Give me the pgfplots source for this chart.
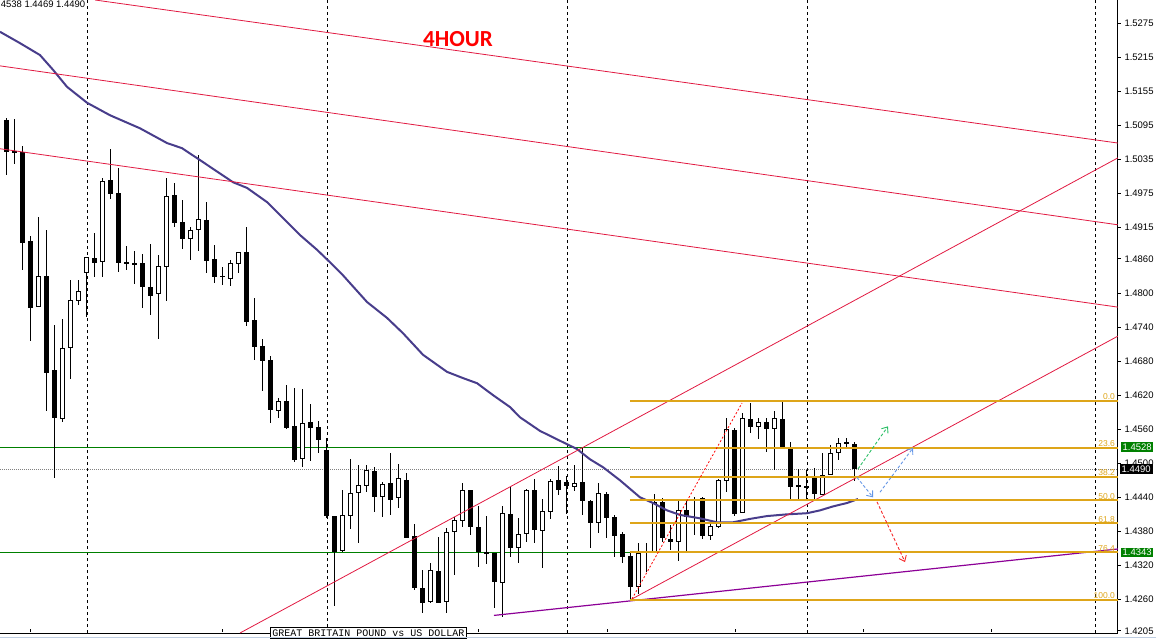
\documentclass[border=0pt]{standalone}
\usepackage{pgfplots}
\pgfplotsset{compat=1.18}
\usepackage{pgfplotstable}
\usepackage{fontspec}
\setmainfont{Liberation Sans}
\newfontfamily\monofont{Liberation Mono}
\newfontfamily\titlefont{Carlito}
\usetikzlibrary{arrows.meta}

\definecolor{maline}{RGB}{72,61,139}
\definecolor{trendred}{RGB}{225,25,65}
\definecolor{fibgold}{RGB}{222,165,25}
\definecolor{lvlgreen}{RGB}{0,128,0}
\definecolor{chanpurple}{RGB}{140,0,150}
\definecolor{arrgreen}{RGB}{40,190,100}
\definecolor{arrblue}{RGB}{100,150,230}
\definecolor{arrred}{RGB}{245,40,40}
\definecolor{winedge}{RGB}{190,205,225}

% GBPUSD H4 candles: index, open, high, low, close
\pgfplotstableread{
i o h l c
0 1.5105 1.5108 1.5008 1.5048
1 1.5050 1.5106 1.5027 1.5046
2 1.5048 1.5059 1.4840 1.4888
3 1.4891 1.4900 1.4715 1.4773
4 1.4775 1.4934 1.4775 1.4830
5 1.4830 1.4911 1.4592 1.4659
6 1.4664 1.4743 1.4474 1.4580
7 1.4578 1.4754 1.4572 1.4703
8 1.4703 1.4823 1.4648 1.4787
9 1.4786 1.4823 1.4779 1.4803
10 1.4835 1.4863 1.4757 1.4863
11 1.4861 1.4905 1.4828 1.4853
12 1.4854 1.5002 1.4828 1.4997
13 1.4999 1.5053 1.4965 1.4974
14 1.4976 1.5020 1.4837 1.4853
15 1.4854 1.4882 1.4840 1.4853
16 1.4853 1.4874 1.4816 1.4849
17 1.4853 1.4869 1.4773 1.4810
18 1.4810 1.4886 1.4761 1.4794
19 1.4798 1.4867 1.4719 1.4847
20 1.4846 1.5002 1.4786 1.4971
21 1.4972 1.4994 1.4916 1.4923
22 1.4925 1.4964 1.4877 1.4895
23 1.4895 1.4916 1.4858 1.4911
24 1.4911 1.5043 1.4874 1.4930
25 1.4928 1.4960 1.4835 1.4856
26 1.4860 1.4884 1.4817 1.4828
27 1.4830 1.4846 1.4814 1.4828
28 1.4824 1.4858 1.4812 1.4853
29 1.4851 1.4872 1.4835 1.4872
30 1.4872 1.4916 1.4742 1.4749
31 1.4752 1.4791 1.4682 1.4705
32 1.4706 1.4719 1.4627 1.4680
33 1.4682 1.4689 1.4571 1.4594
34 1.4592 1.4615 1.4580 1.4609
35 1.4609 1.4638 1.4560 1.4562
36 1.4565 1.4632 1.4502 1.4506
37 1.4507 1.4631 1.4493 1.4571
38 1.4572 1.4604 1.4504 1.4562
39 1.4564 1.4574 1.4518 1.4541
40 1.4523 1.4544 1.4403 1.4407
41 1.4407 1.4407 1.4248 1.4343
42 1.4345 1.4453 1.4343 1.4409
43 1.4407 1.4507 1.4384 1.4447
44 1.4447 1.4497 1.4359 1.4461
45 1.4460 1.4497 1.4449 1.4488
46 1.4486 1.4493 1.4414 1.4440
47 1.4440 1.4467 1.4405 1.4463
48 1.4465 1.4518 1.4409 1.4435
49 1.4439 1.4498 1.4421 1.4474
50 1.4470 1.4483 1.4368 1.4368
51 1.4372 1.4393 1.4276 1.4280
52 1.4280 1.4312 1.4236 1.4254
53 1.4255 1.4324 1.4254 1.4312
54 1.4310 1.4370 1.4254 1.4254
55 1.4255 1.4386 1.4236 1.4379
56 1.4379 1.4405 1.4303 1.4400
57 1.4398 1.4465 1.4387 1.4453
58 1.4453 1.4453 1.4373 1.4387
59 1.4387 1.4424 1.4317 1.4343
60 1.4343 1.4407 1.4322 1.4342
61 1.4342 1.4342 1.4245 1.4291
62 1.4289 1.4424 1.4229 1.4412
63 1.4410 1.4458 1.4335 1.4350
64 1.4350 1.4403 1.4324 1.4375
65 1.4375 1.4454 1.4361 1.4453
66 1.4453 1.4472 1.4359 1.4382
67 1.4380 1.4437 1.4315 1.4416
68 1.4414 1.4472 1.4401 1.4469
69 1.4470 1.4495 1.4444 1.4453
70 1.4467 1.4477 1.4410 1.4460
71 1.4458 1.4497 1.4451 1.4465
72 1.4467 1.4527 1.4409 1.4433
73 1.4433 1.4435 1.4350 1.4395
74 1.4395 1.4465 1.4377 1.4447
75 1.4446 1.4449 1.4368 1.4403
76 1.4405 1.4409 1.4335 1.4372
77 1.4375 1.4379 1.4324 1.4335
78 1.4336 1.4342 1.4260 1.4282
79 1.4282 1.4359 1.4269 1.4342
80 1.4343 1.4359 1.4308 1.4345
81 1.4343 1.4446 1.4343 1.4431
82 1.4431 1.4439 1.4361 1.4368
83 1.4366 1.4391 1.4347 1.4361
84 1.4361 1.4437 1.4328 1.4417
85 1.4417 1.4435 1.4343 1.4405
86 1.4435 1.4440 1.4373 1.4437
87 1.4439 1.4440 1.4366 1.4372
88 1.4372 1.4395 1.4365 1.4389
89 1.4387 1.4472 1.4386 1.4470
90 1.4469 1.4580 1.4449 1.4560
91 1.4558 1.4562 1.4407 1.4410
92 1.4412 1.4588 1.4412 1.4580
93 1.4578 1.4607 1.4553 1.4564
94 1.4564 1.4580 1.4543 1.4572
95 1.4572 1.4580 1.4520 1.4560
96 1.4560 1.4592 1.4488 1.4580
97 1.4578 1.4610 1.4528 1.4528
98 1.4525 1.4537 1.4435 1.4458
99 1.4460 1.4490 1.4435 1.4460
100 1.4460 1.4488 1.4435 1.4456
101 1.4474 1.4491 1.4435 1.4446
102 1.4444 1.4518 1.4444 1.4479
103 1.4479 1.4532 1.4479 1.4518
104 1.4518 1.4544 1.4506 1.4535
105 1.4537 1.4544 1.4528 1.4534
106 1.4534 1.4538 1.4469 1.4490
}\candles

\begin{document}
\begin{tikzpicture}[x=1pt,y=1pt]
\begin{axis}[
  at={(0pt,5pt)}, anchor=south west,
  width=1118pt, height=633pt, scale only axis,
  xmin=-0.79, xmax=138.96, ymin=1.4201, ymax=1.5316,
  axis x line*=bottom, axis y line*=right,
  axis line style={-, black, line width=1pt},
  xtick={2.96,26.96,58.96,75.08,91.08,107.08,123.08}, xticklabels={},
  tick style={black, line width=0.8pt},
  tick align=outside, major tick length=3pt,
  x tick style={yshift=4pt},
  ytick={1.5275,1.5215,1.5155,1.5095,1.5035,1.4975,1.4915,1.4860,1.4800,1.4740,1.4680,1.4620,1.4560,1.4500,1.4440,1.4380,1.4320,1.4260,1.4205},
  yticklabels={1.5275,1.5215,1.5155,1.5095,1.5035,1.4975,1.4915,1.4860,1.4800,1.4740,1.4680,1.4620,1.4560,1.4500,1.4440,1.4380,1.4320,1.4260,1.4205},
  y tick label style={font=\fontsize{9.5}{10}\selectfont},
  clip mode=individual,
]
% period separators
\pgfplotsinvokeforeach{10.09,40.09,70.09,100.09,136.09}{
  \addplot[black, line width=0.8pt, dash pattern=on 3pt off 3pt, forget plot] coordinates {(#1,1.4201) (#1,1.5316)};
}
% price levels
\addplot[lvlgreen, line width=1.2pt] coordinates {(-0.79,1.4528) (138.96,1.4528)};
\addplot[lvlgreen, line width=1.2pt] coordinates {(-0.79,1.4343) (138.96,1.4343)};
\addplot[gray, line width=0.7pt, dash pattern=on 1pt off 1pt] coordinates {(-0.79,1.4490) (138.96,1.4490)};

% candles: wicks, bodies, white inner part of rising bodies
\addplot[draw=none, mark=none, error bars/.cd, y dir=both, y explicit, error mark=none,
  error bar style={draw=black, line width=1pt}]
  table[x=i, y expr={(\thisrow{h}+\thisrow{l})/2}, y error expr={(\thisrow{h}-\thisrow{l})/2}] {\candles};
\addplot[draw=none, mark=none, error bars/.cd, y dir=both, y explicit, error mark=none,
  error bar style={draw=black, line width=5pt}]
  table[x=i, y expr={(\thisrow{o}+\thisrow{c})/2}, y error expr={max(abs(\thisrow{o}-\thisrow{c})/2,0.00009)}] {\candles};
\addplot[draw=none, mark=none, error bars/.cd, y dir=both, y explicit, error mark=none,
  error bar style={draw=white, line width=3pt}]
  table[x=i, y expr={(\thisrow{o}+\thisrow{c})/2}, y error expr={(\thisrow{c}>\thisrow{o})*max(abs(\thisrow{c}-\thisrow{o})/2-0.000176,0)}] {\candles};

% moving average
\addplot[maline, line width=2pt] coordinates {
(-0.79,1.5260) (1.71,1.5240) (4.21,1.5219) (5.84,1.5193) (7.59,1.5163) (10.09,1.5135)
(12.96,1.5113) (16.71,1.5090) (20.09,1.5064) (21.96,1.5055) (24.21,1.5034) (28.34,1.4995)
(30.09,1.4985) (32.59,1.4960) (34.59,1.4932) (36.71,1.4902) (38.84,1.4876) (40.46,1.4854)
(42.09,1.4831) (45.09,1.4784) (47.59,1.4756) (49.59,1.4729) (52.09,1.4691) (55.09,1.4661)
(57.09,1.4650) (58.84,1.4641) (60.84,1.4620) (62.96,1.4599) (64.21,1.4581) (66.71,1.4557)
(69.59,1.4537) (71.34,1.4525) (72.96,1.4507) (74.59,1.4493) (76.71,1.4470) (79.21,1.4440)
(80.84,1.4430) (82.59,1.4417) (84.21,1.4409) (86.71,1.4403) (88.84,1.4396) (90.84,1.4396)
(92.96,1.4402) (95.09,1.4407) (97.59,1.4410) (100.09,1.4412) (101.71,1.4417) (103.34,1.4424)
(105.09,1.4430) (106.46,1.4437)};

% trend lines
\addplot[trendred, line width=0.8pt] coordinates {(11.09,1.5316) (138.96,1.5064)};
\addplot[trendred, line width=0.8pt] coordinates {(-0.79,1.5200) (138.96,1.4920)};
\addplot[trendred, line width=0.8pt] coordinates {(-0.79,1.5054) (138.96,1.4775)};
\addplot[trendred, line width=0.8pt] coordinates {(29.21,1.4201) (138.96,1.5038)};
\addplot[trendred, line width=0.8pt] coordinates {(77.96,1.4259) (138.96,1.4724)};
\addplot[chanpurple, line width=1.2pt] coordinates {(60.96,1.4232) (138.96,1.4349)};

% fibonacci retracement
\pgfplotsinvokeforeach{1.4610,1.4527,1.4476,1.4435,1.4394,1.4343,1.4260}{
  \addplot[fibgold, line width=2pt, forget plot] coordinates {(77.96,#1) (138.96,#1)};
}
\addplot[red, line width=0.8pt, dash pattern=on 2pt off 2pt] coordinates {(78.21,1.4261) (91.96,1.4606)};
\node[anchor=south east, text=fibgold, font=\fontsize{8.5}{9}\selectfont, inner sep=0.8pt] at (axis cs:138.7,1.4610) {0.0};
\node[anchor=south east, text=fibgold, font=\fontsize{8.5}{9}\selectfont, inner sep=0.8pt] at (axis cs:138.7,1.4527) {23.6};
\node[anchor=south east, text=fibgold, font=\fontsize{8.5}{9}\selectfont, inner sep=0.8pt] at (axis cs:138.7,1.4476) {38.2};
\node[anchor=south east, text=fibgold, font=\fontsize{8.5}{9}\selectfont, inner sep=0.8pt] at (axis cs:138.7,1.4435) {50.0};
\node[anchor=south east, text=fibgold, font=\fontsize{8.5}{9}\selectfont, inner sep=0.8pt] at (axis cs:138.7,1.4394) {61.8};
\node[anchor=south east, text=fibgold, font=\fontsize{8.5}{9}\selectfont, inner sep=0.8pt] at (axis cs:138.7,1.4343) {76.4};
\node[anchor=south east, text=fibgold, font=\fontsize{8.5}{9}\selectfont, inner sep=0.8pt] at (axis cs:138.7,1.4260) {100.0};

% scenario arrows
\addplot[arrgreen, line width=0.9pt, dash pattern=on 3pt off 2pt, -{Straight Barb[length=5pt,width=8pt]}] coordinates {(106.46,1.4490) (110.21,1.4565)};
\addplot[arrblue, line width=0.9pt, dash pattern=on 3pt off 2pt, -{Straight Barb[length=5pt,width=8pt]}] coordinates {(106.34,1.4475) (108.34,1.4440)};
\addplot[arrblue, line width=0.9pt, dash pattern=on 3pt off 2pt, -{Straight Barb[length=5pt,width=8pt]}] coordinates {(109.21,1.4449) (113.34,1.4527)};
\addplot[arrred, line width=0.9pt, dash pattern=on 3pt off 2pt, -{Straight Barb[length=5pt,width=8pt]}] coordinates {(108.84,1.4432) (112.34,1.4326)};

% texts
\node[text=red, font={\titlefont\bfseries\fontsize{23}{24}\selectfont}] at (axis cs:56.46,1.5247) {4HOUR};
\node[anchor=north east, fill=white, inner sep=0.5pt, font=\fontsize{9.5}{10}\selectfont] at (axis cs:9.96,1.5316) {GBPUSD,H4\ \ 1.4534 1.4538 1.4469 1.4490};
\coordinate (lbl) at (axis cs:32.96,1.42112);
\coordinate (pA) at (axis cs:138.96,1.4528);
\coordinate (pB) at (axis cs:138.96,1.4490);
\coordinate (pC) at (axis cs:138.96,1.4343);
\end{axis}
\node[anchor=north west, draw=black, fill=white, line width=0.8pt, inner sep=2pt, font={\monofont\fontsize{10}{10}\selectfont}] at (lbl) {GREAT BRITAIN POUND vs US DOLLAR};
\node[anchor=west, fill=lvlgreen, text=white, inner sep=1.5pt, font=\fontsize{9.5}{10}\selectfont] at ([xshift=3pt]pA) {1.4528};
\node[anchor=west, fill=black, text=white, inner sep=2pt, font=\fontsize{9.5}{10}\selectfont] at ([xshift=1.5pt]pB) {1.4490};
\node[anchor=west, fill=lvlgreen, text=white, inner sep=1.5pt, font=\fontsize{9.5}{10}\selectfont] at ([xshift=3pt]pC) {1.4343};
\draw[winedge, line width=1.5pt] (0,0.75) -- (1156,0.75);
\pgfresetboundingbox
\path[use as bounding box] (0,0) rectangle (1156,638);
\end{tikzpicture}
\end{document}
